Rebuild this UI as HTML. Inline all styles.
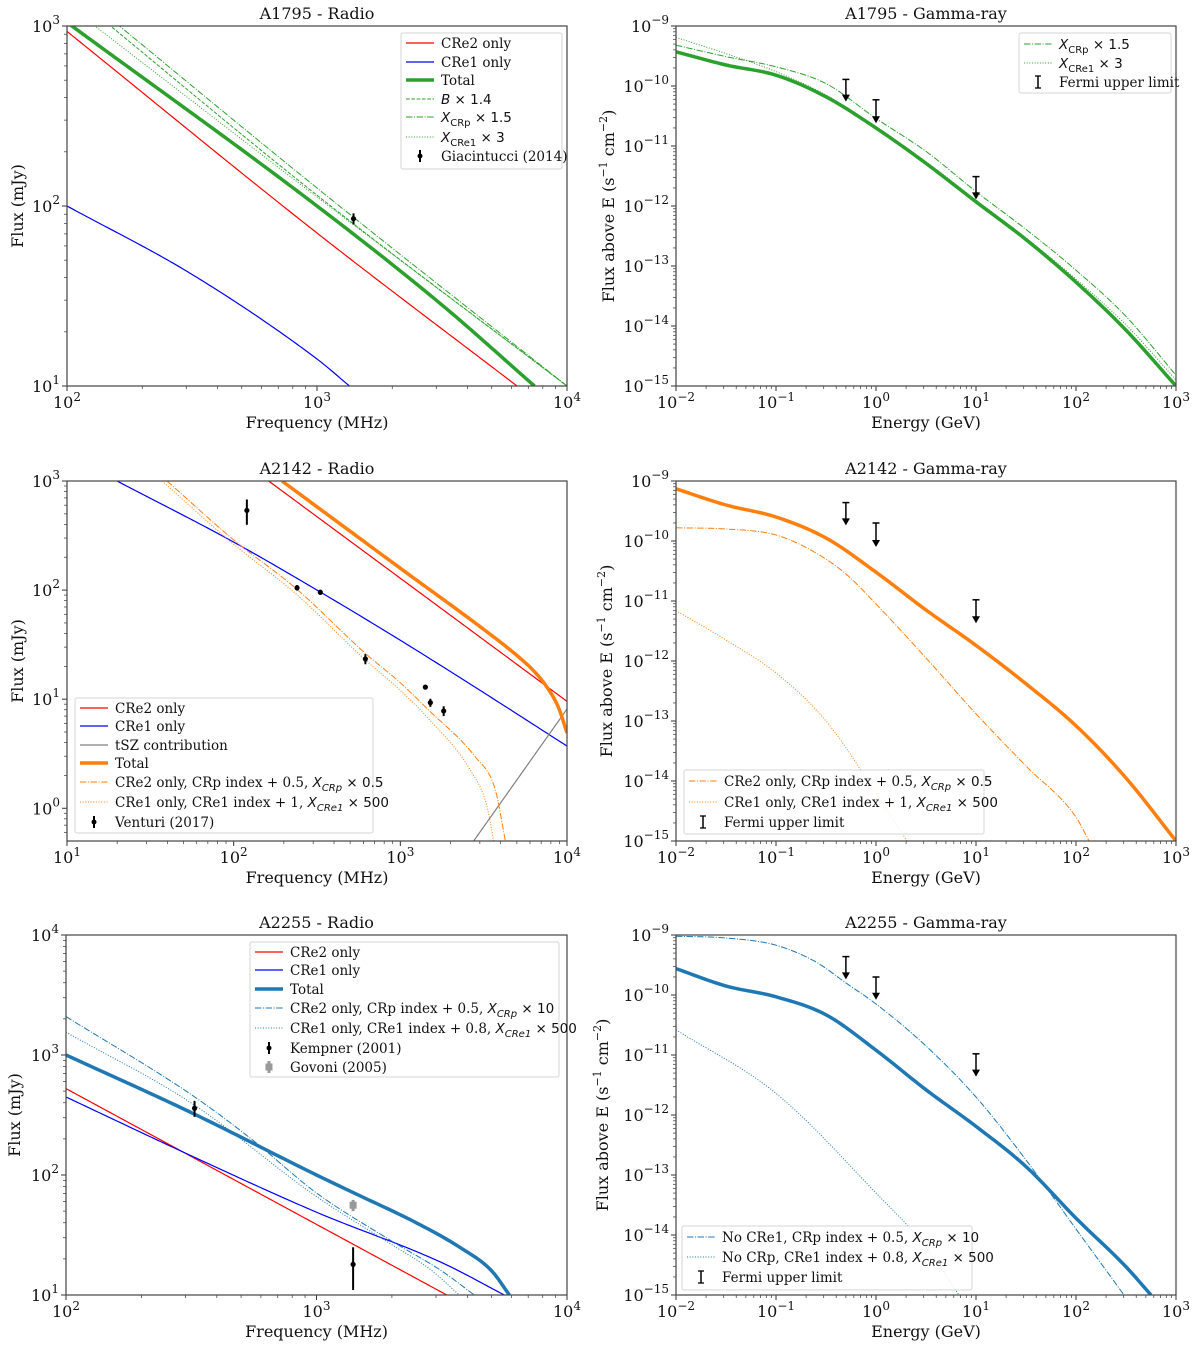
<!DOCTYPE html>
<html><head><meta charset="utf-8"><style>
html,body{margin:0;padding:0;background:#fff}
svg{display:block}
text{font-family:"DejaVu Serif","Liberation Serif",serif;fill:#111}
.m{font-family:"DejaVu Sans","Liberation Sans",sans-serif}
</style></head><body>
<svg id="fig" width="1200" height="1350" viewBox="0 0 1200 1350" xmlns="http://www.w3.org/2000/svg"></svg>
<script>
// ===== Panel 1: A1795 Radio (log10 values) =====
const p1Cre2X=[2,3,3.8], p1Cre2Y=[2.97,1.85,1];
const p1Cre1X=[2,2.5,3,3.13], p1Cre1Y=[2,1.62,1.15,1];
const p1TotX=[2,3,3.5,3.87], p1TotY=[3.02,2.0,1.45,1];
const p1BX=[2,3,4], p1BY=[3.2,2.06,1];
const p1XpX=[2,3,4], p1XpY=[3.24,2.1,1.0];
const p1XeX=[2,3,4], p1XeY=[3.12,2.05,1];
const p1DataF=[1400], p1DataS=[85], p1DataErr=[6];
// ===== Panel 2: A1795 Gamma =====
const p2X=[-2,-1.5,-1,-0.5,0,0.5,1,1.5,2,2.5,3];
const p2Tot=[-9.43,-9.65,-9.82,-10.18,-10.7,-11.29,-11.93,-12.56,-13.27,-14.07,-15];
const p2Xp=[-9.32,-9.51,-9.68,-9.96,-10.54,-11.09,-11.76,-12.39,-13.07,-13.84,-14.82];
const p2Xe=[-9.19,-9.46,-9.76,-10.15,-10.68,-11.26,-11.9,-12.53,-13.22,-13.98,-14.9];
const p2UlE=[0.5,1,10], p2UlTop=[-9.89,-10.23,-11.51], p2UlTip=[-10.26,-10.62,-11.89];
// ===== Panel 3: A2142 Radio =====
const p3Cre2X=[2.21,4], p3Cre2Y=[3,0.98];
const p3Cre1X=[1.3,2,2.5,3,3.5,4], p3Cre1Y=[3,2.44,2.0,1.54,1.06,0.57];
const p3TszX=[3.44,4], p3TszY=[-0.3,0.91];
const p3TotX=[2.29,3,3.5,3.7,3.8,3.88,3.95,4], p3TotY=[3,2.2,1.64,1.4,1.26,1.11,0.92,0.69];
const p3DdX=[1.6,2,2.37,2.79,3,3.17,3.45,3.57,3.63], p3DdY=[3,2.46,2.02,1.42,1.15,0.9,0.47,0.17,-0.3];
const p3DtX=[1.57,2,2.37,2.79,3,3.17,3.42,3.52,3.56], p3DtY=[3,2.42,1.97,1.36,1.08,0.82,0.35,0.02,-0.3];
const p3DataF=[120,240,331,617,1413,1514,1820], p3DataS=[537,105,95.5,23.4,12.9,9.3,7.8], p3DataErr=[140,6,5,2.5,0.5,0.8,0.8];
// ===== Panel 4: A2142 Gamma =====
const p4TotX=[-2,-1.5,-1,-0.5,0,0.5,1,1.5,2,2.5,3];
const p4Tot=[-9.13,-9.4,-9.6,-9.95,-10.52,-11.15,-11.74,-12.38,-13.08,-13.95,-15];
const p4DdX=[-2,-1.5,-1,-0.6,-0.3,0,0.5,1,1.5,2,2.13];
const p4Dd=[-9.78,-9.8,-9.9,-10.2,-10.55,-11.05,-11.95,-12.88,-13.75,-14.6,-15];
const p4DtX=[-2,-1.5,-1,-0.5,0,0.31];
const p4Dt=[-11.16,-11.65,-12.2,-13.0,-14.2,-15];
const p4UlE=[0.5,1,10], p4UlTop=[-9.36,-9.7,-10.98], p4UlTip=[-9.74,-10.1,-11.37];
// ===== Panel 5: A2255 Radio =====
const p5Cre2X=[2,3.52], p5Cre2Y=[2.72,1];
const p5Cre1X=[2,2.5,3,3.5,3.75], p5Cre1Y=[2.65,2.16,1.69,1.27,1];
const p5TotX=[2,2.5,3,3.15,3.4,3.57,3.7,3.77], p5TotY=[3,2.52,2.0,1.85,1.6,1.4,1.2,1];
const p5DdX=[2,2.5,2.74,3,3.3,3.5,3.63], p5DdY=[3.32,2.67,2.3,1.85,1.45,1.2,1];
const p5DtX=[2,2.5,3,3.3,3.45,3.57], p5DtY=[3.19,2.6,1.82,1.42,1.22,1];
const p5KempF=[326,1400], p5KempS=[360,18], p5KempErr=[55,7];
const p5GovF=[1400], p5GovS=[56], p5GovErr=[6];
// ===== Panel 6: A2255 Gamma =====
const p6DdX=[-2,-1.5,-1,-0.6,-0.3,0,0.5,1,1.5,2,2.48];
const p6Dd=[-9.02,-9.05,-9.17,-9.45,-9.8,-10.15,-10.85,-11.7,-12.75,-13.9,-15];
const p6TotX=[-2,-1.5,-1,-0.5,0,0.5,1,1.5,2,2.5,2.75];
const p6Tot=[-9.56,-9.85,-10.03,-10.33,-10.92,-11.58,-12.19,-12.86,-13.72,-14.53,-15];
const p6DtX=[-2,-1,0,0.5,0.83];
const p6Dt=[-10.58,-11.64,-13.3,-14.2,-15];
const p6UlE=[0.5,1,10], p6UlTop=[-9.36,-9.7,-10.98], p6UlTip=[-9.74,-10.08,-11.36];

const NS="http://www.w3.org/2000/svg";
const fig=document.getElementById('fig');
function mk(tag,parent){const e=document.createElementNS(NS,tag);(parent||fig).appendChild(e);return e;}
function at(e,o){for(const k in o)e.setAttribute(k,o[k]);return e;}
const DASH={solid:null,dashed:"3.7,1.6",dashdot:"6.4,1.6,1,1.6",dotted:"1,1.65"};
const RED="#ff0000",BLUE="#0000ff",GREEN="#2ca02c",ORANGE="#ff7f0e",TBLUE="#1f77b4",GREY="#808080";
let clipN=0;

function makePanel(c){
  const g=mk('g');
  
  
  const sx=v=>c.L+(v-c.x0)/(c.x1-c.x0)*c.W;
  const sy=v=>c.T+(c.y1-v)/(c.y1-c.y0)*c.H;
  const id='clip'+(clipN++);
  const cp=at(mk('clipPath',g),{id:id});
  at(mk('rect',cp),{x:c.L,y:c.T,width:c.W,height:c.H});
  const plot=mk('g',g); plot.setAttribute('clip-path','url(#'+id+')');
  
  
  const tg=mk('g',g);
  
  
  for(let d=Math.floor(c.x0);d<=Math.ceil(c.x1);d++){
    for(let k=1;k<10;k++){const v=d+Math.log10(k); if(v<c.x0-1e-6||v>c.x1+1e-6)continue;
      const x=sx(v); at(mk('line',tg),{x1:x,x2:x,y1:c.T+c.H,y2:c.T+c.H+(k==1?5:3),stroke:'#333','stroke-width':k==1?1:0.7});
      if(k==1){const t=at(mk('text',tg),{x:x,y:c.T+c.H+22,'text-anchor':'middle','font-size':16});
        t.innerHTML='10<tspan dy="-7" font-size="12">'+(d<0?'−'+(-d):d)+'</tspan>';
        
        }
    }
  }
  for(let d=Math.floor(c.y0);d<=Math.ceil(c.y1);d++){
    for(let k=1;k<10;k++){const v=d+Math.log10(k); if(v<c.y0-1e-6||v>c.y1+1e-6)continue;
      const y=sy(v); at(mk('line',tg),{x1:c.L,x2:c.L-(k==1?5:3),y1:y,y2:y,stroke:'#333','stroke-width':k==1?1:0.7});
      if(k==1){const t=at(mk('text',tg),{x:c.L-7,y:y+6,'text-anchor':'end','font-size':16});
        t.innerHTML='10<tspan dy="-8" font-size="12">'+(d<0?'−'+(-d):d)+'</tspan>';
        
        }
    }
  }
  const fr=at(mk('rect',g),{x:c.L,y:c.T,width:c.W,height:c.H,fill:'none',stroke:'#444','stroke-width':1.2});
  
  
  const ti=at(mk('text',g),{x:c.L+c.W/2,y:c.T-7,'text-anchor':'middle','font-size':16});
  ti.textContent=c.title;
  
  
  const xl=at(mk('text',g),{x:c.L+c.W/2,y:c.T+c.H+42,'text-anchor':'middle','font-size':16});
  xl.textContent=c.xlabel;
  
  
  const yx=c.ylx, yy=c.T+c.H/2;
  const yl=at(mk('text',g),{x:yx,y:yy,'text-anchor':'middle','font-size':16,transform:'rotate(-90 '+yx+' '+yy+')'});
  yl.innerHTML=c.ylabel;
  
  
  return {g,plot,sx,sy,c};
}
// monotone cubic (Fritsch-Carlson) in data space
function monotone(xs,ys){
  const n=xs.length; if(n<3)return t=>{let i=0;while(i<n-2&&t>xs[i+1])i++;return ys[i]+(ys[i+1]-ys[i])*(t-xs[i])/(xs[i+1]-xs[i]);};
  const dx=[],s=[];for(let i=0;i<n-1;i++){dx.push(xs[i+1]-xs[i]);s.push((ys[i+1]-ys[i])/dx[i]);}
  const m=[s[0]];for(let i=1;i<n-1;i++){m.push(s[i-1]*s[i]<=0?0:(s[i-1]+s[i])/2);}m.push(s[n-2]);
  for(let i=0;i<n-1;i++){if(s[i]==0){m[i]=m[i+1]=0;continue;}const a=m[i]/s[i],b=m[i+1]/s[i],h=a*a+b*b;if(h>9){const t=3/Math.sqrt(h);m[i]=t*a*s[i];m[i+1]=t*b*s[i];}}
  return t=>{let i=0;while(i<n-2&&t>xs[i+1])i++;const h=dx[i],u=(t-xs[i])/h,u2=u*u,u3=u2*u;
    return (2*u3-3*u2+1)*ys[i]+(u3-2*u2+u)*h*m[i]+(-2*u3+3*u2)*ys[i+1]+(u3-u2)*h*m[i+1];};
}
function curve(P,xs,ys,color,w,style,name){
  const f=monotone(xs,ys);const N=120;let d='';
  for(let k=0;k<=N;k++){const t=xs[0]+(xs[xs.length-1]-xs[0])*k/N;d+=(k?' L':'M')+P.sx(t).toFixed(2)+','+P.sy(f(t)).toFixed(2);}
  const e=at(mk('path',P.plot),{d:d,fill:'none',stroke:color,'stroke-width':w,'stroke-linejoin':'round'});
  if(DASH[style])e.setAttribute('stroke-dasharray',DASH[style]);
  
  
}
function errpts(P,fs,ss,es,color,name,square){
  fs.forEach((f,i)=>{
    const x=P.sx(Math.log10(f)),y=P.sy(Math.log10(ss[i]));
    const y1=P.sy(Math.log10(ss[i]+es[i])),y2=P.sy(Math.log10(Math.max(ss[i]-es[i],1e-9)));
    const g=mk('g',P.plot);
    
    
    at(mk('line',g),{x1:x,x2:x,y1:y1,y2:y2,stroke:color,'stroke-width':square?3:2});
    if(square) at(mk('rect',g),{x:x-3.5,y:y-3.5,width:7,height:7,fill:color});
    else at(mk('circle',g),{cx:x,cy:y,r:2.6,fill:color});
  });
}
function uls(P,es,tops,tips){
  es.forEach((e,i)=>{
    const x=P.sx(Math.log10(e)),y1=P.sy(tops[i]),y2=P.sy(tips[i]);
    const g=mk('g',P.plot);
    
    
    at(mk('line',g),{x1:x-3.5,x2:x+3.5,y1:y1,y2:y1,stroke:'#000','stroke-width':1.5});
    at(mk('line',g),{x1:x,x2:x,y1:y1,y2:y2-5,stroke:'#000','stroke-width':1.5});
    at(mk('path',g),{d:'M'+(x-4)+','+(y2-7)+' L'+(x+4)+','+(y2-7)+' L'+x+','+y2+' Z',fill:'#000'});
  });
}
function legend(x,y,w,h,rows,name){
  const g=mk('g');
  
  
  at(mk('rect',g),{x:x,y:y,width:w,height:h,rx:2,fill:'#fff','fill-opacity':0.85,stroke:'#d6d6d6','stroke-width':1});
  rows.forEach(r=>{
    const e=mk('g',g);
    
    
    const lx=x+5,cy=r.y;
    if(r.kind=='err'){at(mk('line',e),{x1:lx+14,x2:lx+14,y1:cy-6,y2:cy+6,stroke:r.color,'stroke-width':2});at(mk('circle',e),{cx:lx+14,cy:cy,r:2.5,fill:r.color});}
    else if(r.kind=='sq'){at(mk('line',e),{x1:lx+14,x2:lx+14,y1:cy-6,y2:cy+6,stroke:r.color,'stroke-width':3});at(mk('rect',e),{x:lx+10.5,y:cy-3.5,width:7,height:7,fill:r.color});}
    else if(r.kind=='ul'){at(mk('line',e),{x1:lx+14,x2:lx+14,y1:cy-6,y2:cy+6,stroke:'#000','stroke-width':1.5});at(mk('line',e),{x1:lx+11,x2:lx+17,y1:cy-6,y2:cy-6,stroke:'#000','stroke-width':1.3});at(mk('line',e),{x1:lx+11,x2:lx+17,y1:cy+6,y2:cy+6,stroke:'#000','stroke-width':1.3});}
    else{const l=at(mk('line',e),{x1:lx,x2:lx+28,y1:cy,y2:cy,stroke:r.color,'stroke-width':r.w});if(DASH[r.kind])l.setAttribute('stroke-dasharray',DASH[r.kind]);}
    const t=at(mk('text',e),{x:x+40,y:cy+5,'font-size':13.5});
    t.innerHTML=r.label;
  });
}
const XS=(s,tail)=>'<tspan class="m" font-style="italic">X</tspan><tspan class="m" dy="4" font-size="10">'+s+'</tspan><tspan class="m" dy="-4"> '+tail+'</tspan>';
const XSi=(s,tail)=>'<tspan class="m" font-style="italic">X</tspan><tspan class="m" font-style="italic" dy="4" font-size="10">'+s+'</tspan><tspan class="m" dy="-4"> '+tail+'</tspan>';
const GY='Flux above E (s<tspan dy="-7" font-size="11">−1</tspan><tspan dy="7"> cm</tspan><tspan dy="-7" font-size="11">−2</tspan><tspan dy="7">)</tspan>';

// Panel 1
let P=makePanel({name:'a1795-radio-panel',L:67,T:26,W:500,H:360,x0:2,x1:4,y0:1,y1:3,title:'A1795 - Radio',xlabel:'Frequency (MHz)',ylabel:'Flux (mJy)',ylx:23});
curve(P,p1Cre2X,p1Cre2Y,RED,1.2,'solid','cre2-only-line');
curve(P,p1Cre1X,p1Cre1Y,BLUE,1.2,'solid','cre1-only-line');
curve(P,p1BX,p1BY,GREEN,1,'dashed','b-x1.4-line');
curve(P,p1XpX,p1XpY,GREEN,1,'dashdot','xcrp-x1.5-line');
curve(P,p1XeX,p1XeY,GREEN,1,'dotted','xcre1-x3-line');
curve(P,p1TotX,p1TotY,GREEN,3.5,'solid','total-line');
errpts(P,p1DataF,p1DataS,p1DataErr,'#000','giacintucci-point',false);
legend(401,33,161,136,[
 {y:43,kind:'solid',color:RED,w:1.2,label:'CRe2 only'},
 {y:62,kind:'solid',color:BLUE,w:1.2,label:'CRe1 only'},
 {y:80,kind:'solid',color:GREEN,w:3.5,label:'Total'},
 {y:99,kind:'dashed',color:GREEN,w:1,label:'<tspan class="m" font-style="italic">B</tspan><tspan class="m"> × 1.4</tspan>'},
 {y:117,kind:'dashdot',color:GREEN,w:1,label:XS('CRp','× 1.5')},
 {y:137,kind:'dotted',color:GREEN,w:1,label:XS('CRe1','× 3')},
 {y:156,kind:'err',color:'#000',label:'Giacintucci (2014)'}],'legend-a1795-radio');

// Panel 2
P=makePanel({name:'a1795-gamma-panel',L:676,T:26,W:500,H:360,x0:-2,x1:3,y0:-15,y1:-9,title:'A1795 - Gamma-ray',xlabel:'Energy (GeV)',ylabel:GY,ylx:614});
curve(P,p2X,p2Xp,GREEN,1,'dashdot','xcrp-x1.5-line');
curve(P,p2X,p2Xe,GREEN,1,'dotted','xcre1-x3-line');
curve(P,p2X,p2Tot,GREEN,3.5,'solid','total-line');
uls(P,p2UlE,p2UlTop,p2UlTip);
legend(1019,33,152,60,[
 {y:44,kind:'dashdot',color:GREEN,w:1,label:XS('CRp','× 1.5')},
 {y:63,kind:'dotted',color:GREEN,w:1,label:XS('CRe1','× 3')},
 {y:82,kind:'ul',label:'Fermi upper limit'}],'legend-a1795-gamma');

// Panel 3
P=makePanel({name:'a2142-radio-panel',L:67,T:481,W:500,H:360,x0:1,x1:4,y0:-0.3,y1:3,title:'A2142 - Radio',xlabel:'Frequency (MHz)',ylabel:'Flux (mJy)',ylx:23});
curve(P,p3Cre2X,p3Cre2Y,RED,1.2,'solid','cre2-only-line');
curve(P,p3Cre1X,p3Cre1Y,BLUE,1.2,'solid','cre1-only-line');
curve(P,p3TszX,p3TszY,GREY,1.2,'solid','tsz-line');
curve(P,p3DdX,p3DdY,ORANGE,1,'dashdot','cre2-crp-index-line');
curve(P,p3DtX,p3DtY,ORANGE,1,'dotted','cre1-index-line');
curve(P,p3TotX,p3TotY,ORANGE,3.5,'solid','total-line');
errpts(P,p3DataF,p3DataS,p3DataErr,'#000','venturi-point',false);
legend(75,698,298,135,[
 {y:708,kind:'solid',color:RED,w:1.2,label:'CRe2 only'},
 {y:726,kind:'solid',color:BLUE,w:1.2,label:'CRe1 only'},
 {y:745,kind:'solid',color:GREY,w:1.2,label:'tSZ contribution'},
 {y:763,kind:'solid',color:ORANGE,w:3.5,label:'Total'},
 {y:782,kind:'dashdot',color:ORANGE,w:1,label:'CRe2 only, CRp index + 0.5, '+XSi('CRp','× 0.5')},
 {y:802,kind:'dotted',color:ORANGE,w:1,label:'CRe1 only, CRe1 index + 1, '+XSi('CRe1','× 500')},
 {y:822,kind:'err',color:'#000',label:'Venturi (2017)'}],'legend-a2142-radio');

// Panel 4
P=makePanel({name:'a2142-gamma-panel',L:676,T:481,W:500,H:360,x0:-2,x1:3,y0:-15,y1:-9,title:'A2142 - Gamma-ray',xlabel:'Energy (GeV)',ylabel:GY,ylx:612});
curve(P,p4DdX,p4Dd,ORANGE,1,'dashdot','cre2-crp-index-line');
curve(P,p4DtX,p4Dt,ORANGE,1,'dotted','cre1-index-line');
curve(P,p4TotX,p4Tot,ORANGE,3.5,'solid','total-line');
uls(P,p4UlE,p4UlTop,p4UlTip);
legend(684,770,300,64,[
 {y:781,kind:'dashdot',color:ORANGE,w:1,label:'CRe2 only, CRp index + 0.5, '+XSi('CRp','× 0.5')},
 {y:802,kind:'dotted',color:ORANGE,w:1,label:'CRe1 only, CRe1 index + 1, '+XSi('CRe1','× 500')},
 {y:822,kind:'ul',label:'Fermi upper limit'}],'legend-a2142-gamma');

// Panel 5
P=makePanel({name:'a2255-radio-panel',L:66,T:935,W:501,H:360,x0:2,x1:4,y0:1,y1:4,title:'A2255 - Radio',xlabel:'Frequency (MHz)',ylabel:'Flux (mJy)',ylx:20});
curve(P,p5Cre2X,p5Cre2Y,RED,1.2,'solid','cre2-only-line');
curve(P,p5Cre1X,p5Cre1Y,BLUE,1.2,'solid','cre1-only-line');
curve(P,p5DdX,p5DdY,TBLUE,1,'dashdot','cre2-crp-index-line');
curve(P,p5DtX,p5DtY,TBLUE,1,'dotted','cre1-index-line');
curve(P,p5TotX,p5TotY,TBLUE,3.5,'solid','total-line');
errpts(P,p5KempF,p5KempS,p5KempErr,'#000','kempner-point',false);
errpts(P,p5GovF,p5GovS,p5GovErr,'#999','govoni-point',true);
legend(250,942,309,135,[
 {y:952,kind:'solid',color:RED,w:1.2,label:'CRe2 only'},
 {y:970,kind:'solid',color:BLUE,w:1.2,label:'CRe1 only'},
 {y:989,kind:'solid',color:TBLUE,w:3.5,label:'Total'},
 {y:1008,kind:'dashdot',color:TBLUE,w:1,label:'CRe2 only, CRp index + 0.5, '+XSi('CRp','× 10')},
 {y:1028,kind:'dotted',color:TBLUE,w:1,label:'CRe1 only, CRe1 index + 0.8, '+XSi('CRe1','× 500')},
 {y:1048,kind:'err',color:'#000',label:'Kempner (2001)'},
 {y:1067,kind:'sq',color:'#999',label:'Govoni (2005)'}],'legend-a2255-radio');

// Panel 6
P=makePanel({name:'a2255-gamma-panel',L:676,T:935,W:500,H:360,x0:-2,x1:3,y0:-15,y1:-9,title:'A2255 - Gamma-ray',xlabel:'Energy (GeV)',ylabel:GY,ylx:608});
curve(P,p6DdX,p6Dd,TBLUE,1,'dashdot','no-cre1-line');
curve(P,p6DtX,p6Dt,TBLUE,1,'dotted','no-crp-line');
curve(P,p6TotX,p6Tot,TBLUE,3.5,'solid','total-line');
uls(P,p6UlE,p6UlTop,p6UlTip);
legend(682,1226,290,64,[
 {y:1237,kind:'dashdot',color:TBLUE,w:1,label:'No CRe1, CRp index + 0.5, '+XSi('CRp','× 10')},
 {y:1257,kind:'dotted',color:TBLUE,w:1,label:'No CRp, CRe1 index + 0.8, '+XSi('CRe1','× 500')},
 {y:1277,kind:'ul',label:'Fermi upper limit'}],'legend-a2255-gamma');
</script>
</body></html>
